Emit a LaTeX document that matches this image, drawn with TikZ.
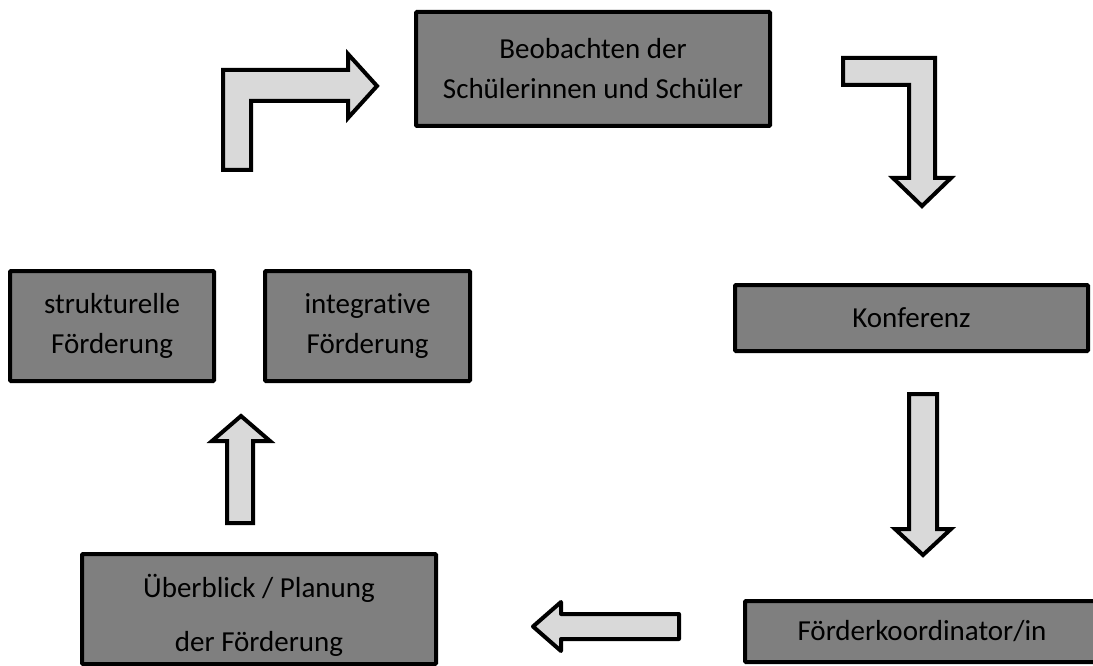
\documentclass[tikz,border=0pt]{standalone}
\usepackage{fontspec}
\setmainfont[Ligatures=NoCommon]{Carlito}
\begin{document}
\begin{tikzpicture}[x=1pt,y=-1pt,
  stepbox/.style={draw=black, line width=4pt, fill=boxgray, rounded corners=1pt,
    inner sep=0pt, align=center, text=black,
    font=\fontsize{29}{40}\selectfont},
  steptext/.style={inner sep=0pt, align=center, text=black},
  blockarrow/.style={draw=black, line width=4pt, fill=arrowgray, line join=miter},
]
\definecolor{boxgray}{HTML}{7F7F7F}
\definecolor{arrowgray}{HTML}{D9D9D9}
\useasboundingbox (0,0) rectangle (1093,666);
\clip (0,0) rectangle (1093,666);

% process boxes
\node[stepbox, minimum width=354pt, minimum height=114pt] (obs) at (593,69)
  {Beobachten der\\Schülerinnen und Schüler};
\node[stepbox, minimum width=353pt, minimum height=66pt] (konf) at (911.5,318)
  {Konferenz};
\node[stepbox, minimum width=358pt, minimum height=61pt] (koord) at (924,631.5)
  {\hspace*{-4pt}Förderkoordinator/in};
\node[stepbox, minimum width=354pt, minimum height=110pt] (plan) at (259,609) {};
\node[steptext, font=\fontsize{29}{54}\selectfont] (plantext) at (259,615)
  {Überblick / Planung\\der Förderung};
\node[stepbox, minimum width=204pt, minimum height=110pt] (strukt) at (112,326)
  {strukturelle\\Förderung};
\node[stepbox, minimum width=205pt, minimum height=110pt] (integ) at (367.5,326)
  {integrative\\Förderung};

% block arrows of the cycle
\draw[blockarrow] (223,170) -- (223,70) -- (348,70) -- (348,54) -- (377,86)
  -- (348,118) -- (348,101) -- (251,101) -- (251,170) -- cycle;
\draw[blockarrow] (843,58) -- (935,58) -- (935,178) -- (951,178) -- (922,206)
  -- (893,178) -- (909,178) -- (909,85) -- (843,85) -- cycle;
\draw[blockarrow] (909,394) -- (937,394) -- (937,529) -- (951,529) -- (923,555)
  -- (895,529) -- (909,529) -- cycle;
\draw[blockarrow, line join=round] (679,614) -- (679,639) -- (561,639) -- (561,651)
  -- (533,626.5) -- (561,602) -- (561,614) -- cycle;
\draw[blockarrow] (227,523) -- (227,441) -- (212,441) -- (241,416) -- (270,441)
  -- (253,441) -- (253,523) -- cycle;
\end{tikzpicture}
\end{document}
